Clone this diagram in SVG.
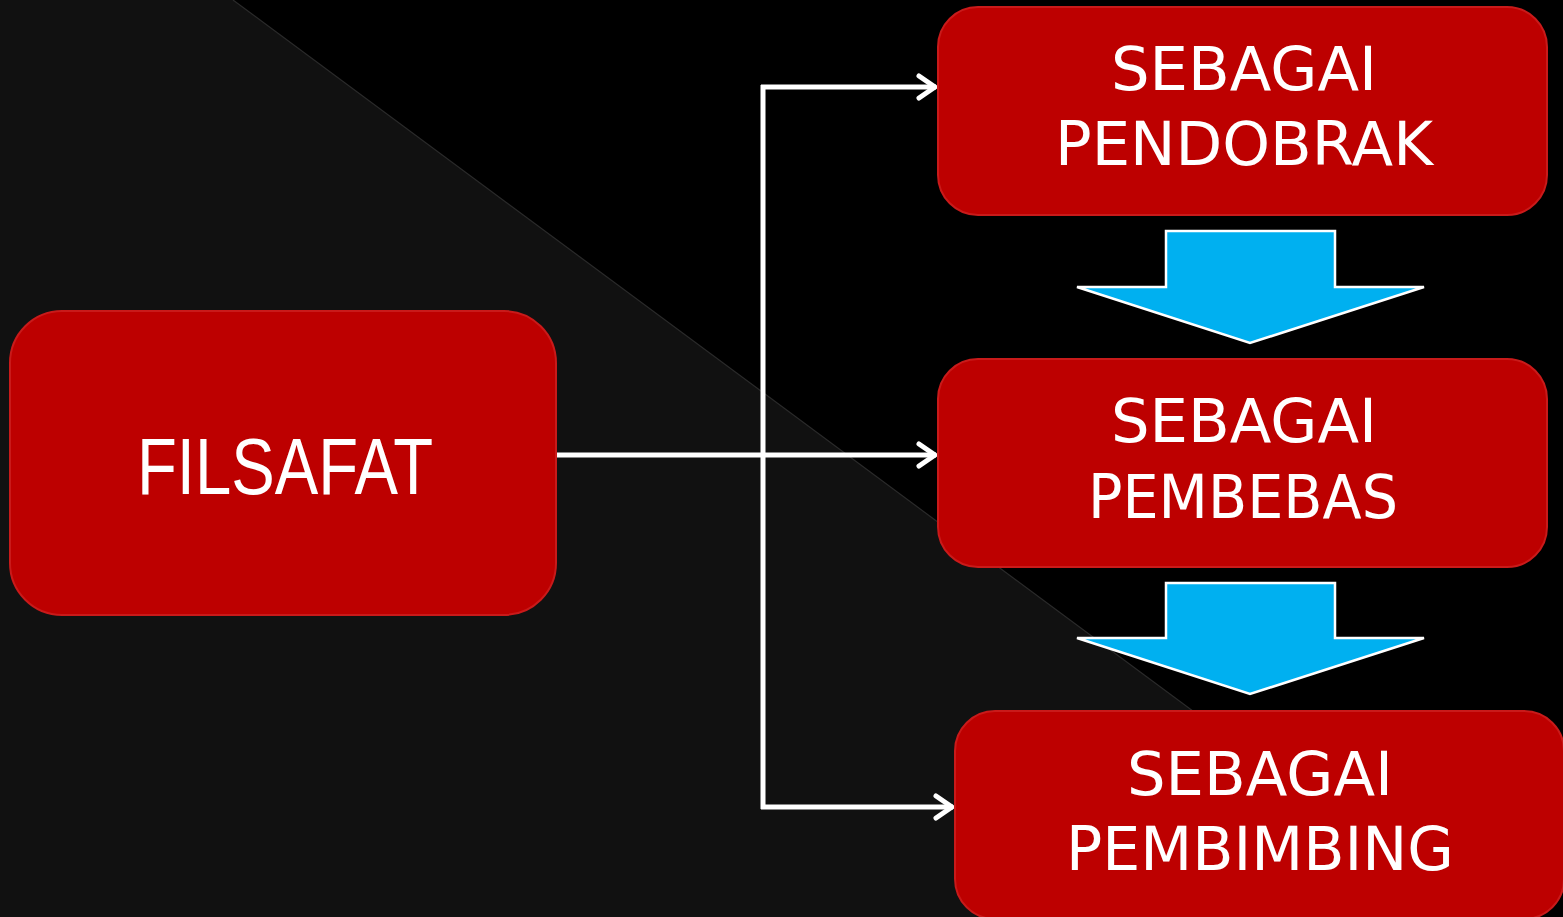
<svg xmlns="http://www.w3.org/2000/svg" width="1563" height="917" viewBox="0 0 1563 917">
<style>
.box{fill:#bd0000;stroke:#c91a1a;stroke-width:2}
.lbl{fill:#ffffff;font-family:"DejaVu Sans","Liberation Sans",sans-serif;font-size:60px;text-anchor:middle}
.big{fill:#ffffff;font-family:"Liberation Sans",sans-serif;font-size:80px;text-anchor:middle}
.conn{fill:none;stroke:#ffffff;stroke-width:5}
.down{fill:#00b0f0;stroke:#ffffff;stroke-width:2.5;stroke-linejoin:miter}
</style>
<defs>
<marker id="chev" viewBox="0 0 24 30" refX="21" refY="15" markerWidth="24" markerHeight="30" markerUnits="userSpaceOnUse" orient="auto">
<polyline points="4,4 20,15 4,26" fill="none" stroke="#ffffff" stroke-width="5" stroke-linecap="round" stroke-linejoin="round"/>
</marker>
</defs>
<rect x="0" y="0" width="1563" height="917" fill="#000000"/>
<polygon points="0,0 233,0 1471,917 0,917" fill="#111111"/>
<line x1="233" y1="0" x2="1471" y2="917" stroke="#2a2a2a" stroke-width="1.2"/>
<g id="connectors">
<line class="conn" x1="763" y1="85" x2="763" y2="809"/>
<line class="conn" x1="761" y1="87" x2="936" y2="87" marker-end="url(#chev)"/>
<line class="conn" x1="761" y1="807" x2="953" y2="807" marker-end="url(#chev)"/>
<line class="conn" x1="552" y1="455" x2="936" y2="455" marker-end="url(#chev)"/>
</g>
<g id="node-filsafat">
<rect class="box" x="10" y="311" width="546" height="304" rx="52"/>
<text class="big" x="285" y="494" textLength="296" lengthAdjust="spacingAndGlyphs">FILSAFAT</text>
</g>
<g id="node-pendobrak">
<rect class="box" x="938" y="7" width="609" height="208" rx="40"/>
<text class="lbl" x="1244" y="90" textLength="266" lengthAdjust="spacingAndGlyphs">SEBAGAI</text>
<text class="lbl" x="1244" y="165" textLength="378" lengthAdjust="spacingAndGlyphs">PENDOBRAK</text>
</g>
<g id="arrow-1">
<polygon class="down" points="1166,231 1335,231 1335,287 1424,287 1250,343 1077,287 1166,287"/>
</g>
<g id="node-pembebas">
<rect class="box" x="938" y="359" width="609" height="208" rx="40"/>
<text class="lbl" x="1244" y="442" textLength="266" lengthAdjust="spacingAndGlyphs">SEBAGAI</text>
<text class="lbl" x="1243" y="518" textLength="310" lengthAdjust="spacingAndGlyphs">PEMBEBAS</text>
</g>
<g id="arrow-2">
<polygon class="down" points="1166,583 1335,583 1335,638 1424,638 1250,694 1077,638 1166,638"/>
</g>
<g id="node-pembimbing">
<rect class="box" x="955" y="711" width="609" height="208" rx="40"/>
<text class="lbl" x="1260" y="795" textLength="266" lengthAdjust="spacingAndGlyphs">SEBAGAI</text>
<text class="lbl" x="1260" y="870" textLength="388" lengthAdjust="spacingAndGlyphs">PEMBIMBING</text>
</g>
</svg>
